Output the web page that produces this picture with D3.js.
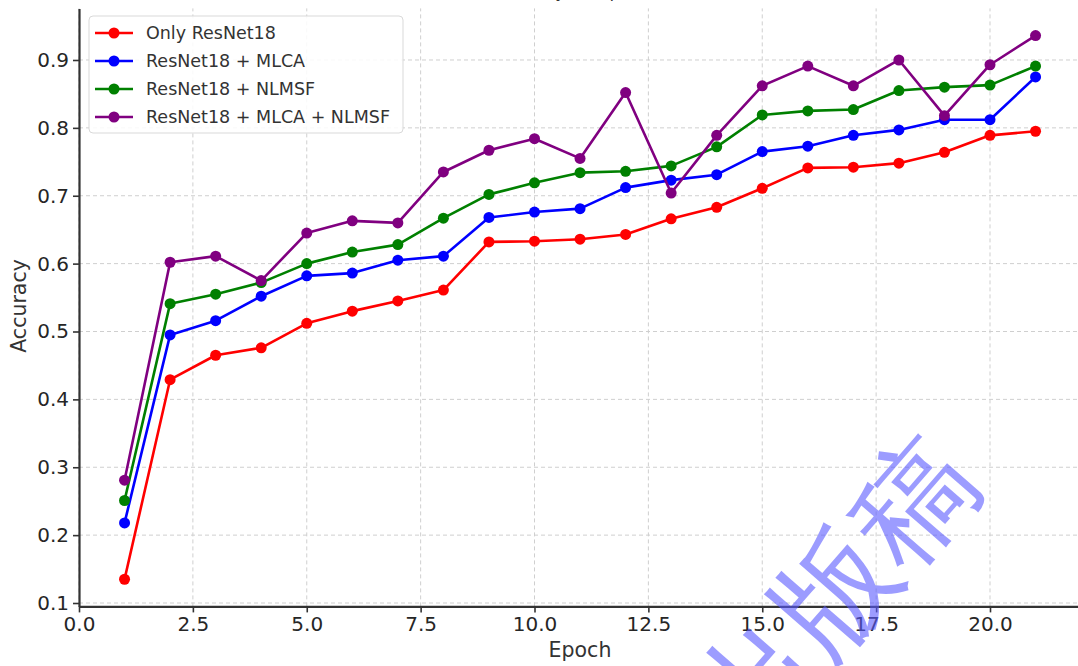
<!DOCTYPE html>
<html>
<head>
<meta charset="utf-8">
<script src="https://cdn.jsdelivr.net/npm/d3@7"></script>
<style>
  html, body { margin: 0; padding: 0; background: #fff; }
  svg { display: block; }
  text { font-family: "DejaVu Sans", sans-serif; }
</style>
</head>
<body>
<script>
// ---------- data ----------
const epochs = [1,2,3,4,5,6,7,8,9,10,11,12,13,14,15,16,17,18,19,20,21];
const seriesNames = ["Only ResNet18", "ResNet18 + MLCA", "ResNet18 + NLMSF", "ResNet18 + MLCA + NLMSF"];
const onlyResNet = [0.135,0.429,0.465,0.476,0.512,0.530,0.545,0.561,0.632,0.633,0.636,0.643,0.666,0.683,0.711,0.741,0.742,0.748,0.764,0.789,0.795];
const resMLCA    = [0.218,0.495,0.516,0.552,0.582,0.586,0.605,0.611,0.668,0.676,0.681,0.712,0.723,0.731,0.765,0.773,0.789,0.797,0.812,0.812,0.875];
const resNLMSF   = [0.251,0.541,0.555,0.572,0.600,0.617,0.628,0.667,0.702,0.719,0.734,0.736,0.744,0.772,0.819,0.825,0.827,0.855,0.860,0.863,0.891];
const resBoth    = [0.281,0.602,0.611,0.575,0.645,0.663,0.660,0.735,0.767,0.784,0.755,0.852,0.704,0.789,0.862,0.891,0.862,0.900,0.818,0.893,0.936];
const seriesColors = ["#ff0000", "#0000ff", "#008000", "#800080"];
const xTicks = [0, 2.5, 5, 7.5, 10, 12.5, 15, 17.5, 20];
const yTicks = [0.1, 0.2, 0.3, 0.4, 0.5, 0.6, 0.7, 0.8, 0.9];
const xDomain = [0, 22];
const yDomain = [0.095, 0.976];
const titleText = "Accuracy Comparison";
const xLabel = "Epoch";
const yLabel = "Accuracy";
const watermark = "未出版稿";

// ---------- layout ----------
const W = 1078, H = 666;
const svg = d3.select("body").append("svg").attr("width", W).attr("height", H);

const x = d3.scaleLinear().domain(xDomain).range([79, 79 + 22 * 45.55]);
const y = d3.scaleLinear().domain(yDomain).range([606.4, 8.4]);

const series = [onlyResNet, resMLCA, resNLMSF, resBoth].map((vals, i) => ({
  name: seriesNames[i], color: seriesColors[i],
  points: epochs.map((e, j) => ({ x: e, y: vals[j] }))
}));

// title (almost entirely cropped out above the top edge, as in the reference)
svg.append("text").attr("x", 580).attr("y", -3).attr("text-anchor", "middle")
  .attr("font-size", 17).attr("fill", "#333").text(titleText);

// grid
const grid = svg.append("g");
grid.selectAll("line.gx").data(xTicks).join("line")
  .attr("x1", d => x(d)).attr("x2", d => x(d))
  .attr("y1", y.range()[0]).attr("y2", y.range()[1])
  .attr("stroke", "#cfcfcf").attr("stroke-width", 1).attr("stroke-dasharray", "4,3");
grid.selectAll("line.gy").data(yTicks).join("line")
  .attr("y1", d => y(d)).attr("y2", d => y(d))
  .attr("x1", x.range()[0]).attr("x2", x.range()[1])
  .attr("stroke", "#cfcfcf").attr("stroke-width", 1).attr("stroke-dasharray", "4,3");

// axes
const xAxis = d3.axisBottom(x).tickValues(xTicks).tickFormat(d3.format(".1f")).tickSize(6).tickSizeOuter(0).tickPadding(4);
const yAxis = d3.axisLeft(y).tickValues(yTicks).tickFormat(d3.format(".1f")).tickSize(6).tickSizeOuter(0).tickPadding(4);

const gx = svg.append("g").attr("transform", `translate(0,${y.range()[0]})`).call(xAxis);
const gy = svg.append("g").attr("transform", `translate(${x.range()[0]},0)`).call(yAxis);
[gx, gy].forEach(g => {
  g.select(".domain").attr("stroke", "#333").attr("stroke-width", 2.2);
  g.selectAll(".tick line").attr("stroke", "#333").attr("stroke-width", 1.6);
  g.selectAll(".tick text").attr("fill", "#262626").attr("font-size", 20)
    .attr("font-family", "DejaVu Sans, sans-serif");
});

// axis labels
svg.append("text").attr("x", 580).attr("y", 657).attr("text-anchor", "middle")
  .attr("font-size", 20.5).attr("fill", "#333").text(xLabel);
svg.append("text").attr("transform", "translate(26,306) rotate(-90)").attr("text-anchor", "middle")
  .attr("font-size", 20.5).attr("fill", "#333").text(yLabel);

// lines + markers
const line = d3.line().x(d => x(d.x)).y(d => y(d.y));
const sg = svg.append("g").selectAll("g").data(series).join("g");
sg.append("path").attr("d", d => line(d.points)).attr("fill", "none")
  .attr("stroke", d => d.color).attr("stroke-width", 2.6).attr("stroke-linejoin", "round");
sg.selectAll("circle").data(d => d.points.map(p => ({ ...p, color: d.color }))).join("circle")
  .attr("cx", d => x(d.x)).attr("cy", d => y(d.y)).attr("r", 5.5).attr("fill", d => d.color);

// legend
const lg = svg.append("g");
lg.append("rect").attr("x", 89).attr("y", 16).attr("width", 314).attr("height", 117)
  .attr("rx", 4).attr("fill", "#fff").attr("fill-opacity", 0.85)
  .attr("stroke", "#d9d9d9").attr("stroke-width", 1);
const items = lg.selectAll("g.item").data(series).join("g")
  .attr("transform", (d, i) => `translate(0,${33 + i * 28})`);
items.append("line").attr("x1", 95).attr("x2", 133).attr("y1", 0).attr("y2", 0)
  .attr("stroke", d => d.color).attr("stroke-width", 2.6);
items.append("circle").attr("cx", 114).attr("cy", 0).attr("r", 5.5).attr("fill", d => d.color);
items.append("text").attr("x", 146).attr("y", 0).attr("dy", "0.36em")
  .attr("font-size", 17.5).attr("fill", "#333").text(d => d.name);

// watermark
svg.append("text")
  .attr("transform", "translate(912,500) rotate(-49)")
  .attr("x", 60).attr("dy", "0.36em").attr("text-anchor", "end")
  .attr("font-family", "'Noto Sans CJK SC', sans-serif").attr("font-weight", 300)
  .attr("font-size", 120).attr("fill", "rgb(90,90,255)").attr("fill-opacity", 0.6)
  .text(watermark);
</script>
</body>
</html>
